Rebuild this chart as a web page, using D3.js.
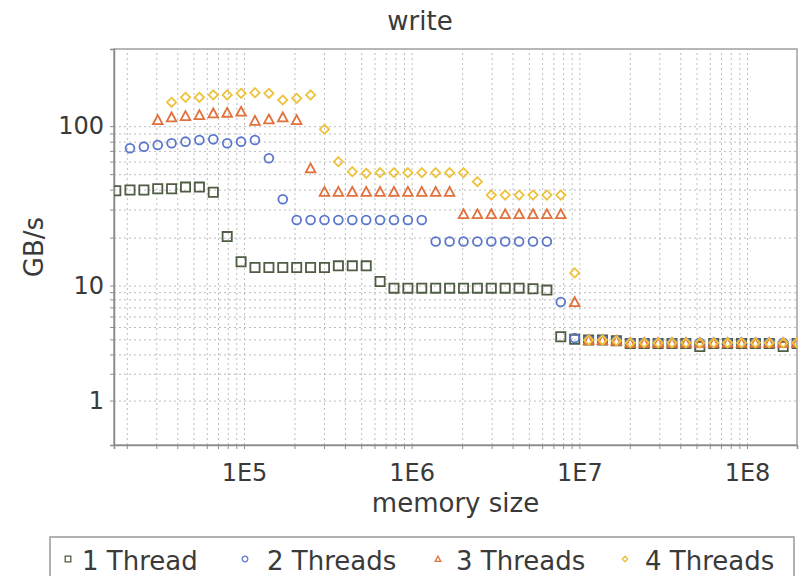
<!DOCTYPE html>
<html>
<head>
<meta charset="utf-8">
<script src="https://cdn.jsdelivr.net/npm/d3@7"></script>
<style>
  body { margin: 0; background: #fff; }
  svg { display: block; }
  text { font-family: "DejaVu Sans", "Noto Sans", sans-serif; fill: #3a3a3a; }
</style>
</head>
<body>
<svg id="chart" width="804" height="576"></svg>
<script>
// Memory sizes (bytes) tested; every series is sampled on this grid.
const memorySizes = [
  17200, 20900, 25300, 30600, 37000, 44800, 54200, 65600, 79400, 96100,
  116300, 140800, 170400, 206200, 249600, 302100, 365600, 442500, 535600, 648200,
  784500, 949500, 1149000, 1391000, 1684000, 2038000, 2466000, 2985000, 3613000, 4372000,
  5292000, 6405000, 7752000, 9382000, 11360000, 13740000, 16630000, 20130000, 24370000, 29490000,
  35690000, 43200000, 52280000, 63280000, 76590000, 92700000, 112200000, 135800000, 164300000, 198900000
];

// Write bandwidth in GB/s per memory size (null = not measured).
const oneThread = [
  39.4, 39.8, 39.8, 40.5, 40.5, 41.5, 41.5, 38.5, 20.3, 14.1,
  13.0, 13.0, 13.0, 13.0, 13.0, 13.0, 13.3, 13.3, 13.3, 10.6,
  9.6, 9.6, 9.6, 9.6, 9.6, 9.6, 9.6, 9.6, 9.6, 9.6,
  9.5, 9.3, 4.2, 4.0, 3.95, 3.95, 3.9, 3.7, 3.7, 3.7,
  3.7, 3.7, 3.5, 3.7, 3.7, 3.7, 3.7, 3.7, 3.5, 3.7
];
const twoThreads = [
  null, 72.7, 74.4, 76.2, 78.1, 80.0, 81.9, 82.7, 78.1, 80.0,
  82.0, 62.9, 34.8, 25.8, 25.8, 25.8, 25.8, 25.8, 25.8, 25.8,
  25.8, 25.8, 25.8, 18.9, 18.9, 18.9, 18.9, 18.9, 18.9, 18.9,
  18.9, 18.9, 7.65, 4.1, 3.95, 3.95, 3.9, 3.75, 3.75, 3.75,
  3.75, 3.75, 3.75, 3.75, 3.75, 3.75, 3.75, 3.75, 3.75, 3.75
];
const threeThreads = [
  null, null, null, 109.4, 113.7, 115.9, 117.6, 120.5, 121.6, 123.4,
  108.2, 110.4, 113.7, 109.4, 54.4, 38.8, 38.8, 38.8, 38.8, 38.8,
  38.8, 38.8, 38.8, 38.8, 38.8, 28.1, 28.1, 28.1, 28.1, 28.1,
  28.1, 28.1, 28.1, 7.65, 3.95, 3.95, 3.9, 3.75, 3.75, 3.75,
  3.75, 3.75, 3.75, 3.75, 3.75, 3.75, 3.75, 3.75, 3.75, 3.75
];
const fourThreads = [
  null, null, null, null, 141.3, 151.8, 151.8, 157.0, 157.0, 160.8,
  162.2, 160.8, 146.0, 149.6, 157.0, 95.6, 59.9, 51.8, 50.6, 51.1,
  51.1, 51.1, 51.1, 51.1, 51.1, 51.1, 44.9, 37.0, 37.0, 37.0,
  37.0, 37.0, 37.0, 12.0, 3.95, 3.95, 3.9, 3.75, 3.75, 3.75,
  3.75, 3.75, 3.75, 3.75, 3.75, 3.75, 3.75, 3.75, 3.75, 3.75
];

const seriesNames = ["1 Thread", "2 Threads", "3 Threads", "4 Threads"];
const seriesColors = ["#4e5d43", "#5b77cc", "#e2703a", "#efc23c"];
const seriesShapes = ["square", "circle", "triangle", "diamond"];

// Grid / tick positions on both axes, labels only at powers of ten.
const xGridValues = [
  2e4, 3e4, 4e4, 5e4, 6e4, 7e4, 8e4, 9e4,
  1e5, 2e5, 3e5, 4e5, 5e5, 6e5, 7e5, 8e5, 9e5,
  1e6, 2e6, 3e6, 4e6, 5e6, 6e6, 7e6, 8e6, 9e6,
  1e7, 2e7, 3e7, 4e7, 5e7, 6e7, 7e7, 8e7, 9e7,
  1e8
];
const xTickLabels = { 1e5: "1E5", 1e6: "1E6", 1e7: "1E7", 1e8: "1E8" };
const yGridValues = [1, 2, 3, 4, 5, 6, 7, 8, 9, 10, 20, 30, 40, 50, 60, 70, 80, 90, 100];
const yTickLabels = { 1: "1", 10: "10", 100: "100" };

const plot = { left: 114, right: 797, top: 49, bottom: 445 };
const W = plot.right - plot.left, H = plot.bottom - plot.top;

const svg = d3.select("#chart");

// x: ordinary log axis
const x = d3.scaleLog().domain([16780, 198700000]).range([plot.left, plot.right]);

// y: log axis that flattens smoothly below 10 (v -> v + (10 - v) / 10), so 0 maps to the bottom
const adjLog = v => Math.log10(v < 10 ? v + (10 - v) / 10 : v);
const yT = d3.scaleLinear().domain([0, adjLog(305)]).range([plot.bottom, plot.top]);
const y = v => yT(adjLog(v));

svg.append("defs").append("clipPath").attr("id", "plotClip")
  .append("rect").attr("x", plot.left).attr("y", plot.top).attr("width", W).attr("height", H);

// plot background
svg.append("rect").attr("x", plot.left).attr("y", plot.top).attr("width", W).attr("height", H)
  .attr("fill", "#fff");

// dashed grid
const gridX = svg.append("g").attr("transform", `translate(0,${plot.bottom})`)
  .call(d3.axisBottom(x).tickValues(xGridValues).tickSize(-H).tickFormat(""));
const gridY = svg.append("g").attr("transform", `translate(${plot.left},0)`)
  .call(d3.axisLeft(yT).tickValues(yGridValues.map(adjLog)).tickSize(-W).tickFormat(""));
[gridX, gridY].forEach(g => {
  g.select(".domain").remove();
  g.selectAll(".tick line").attr("stroke", "#bcbcbc").attr("stroke-width", 1)
    .attr("stroke-dasharray", "2,3");
});

// plot outline
svg.append("rect").attr("x", plot.left).attr("y", plot.top).attr("width", W).attr("height", H)
  .attr("fill", "none").attr("stroke", "#a0a0a0").attr("stroke-width", 1.5);

// axes with tick marks at every grid value
const xAxis = svg.append("g").attr("transform", `translate(0,${plot.bottom})`)
  .call(d3.axisBottom(x).tickValues(xGridValues).tickSize(4).tickPadding(15)
    .tickFormat(v => xTickLabels[v] || ""));
const yAxis = svg.append("g").attr("transform", `translate(${plot.left},0)`)
  .call(d3.axisLeft(yT).tickValues(yGridValues.map(adjLog)).tickSize(4).tickPadding(6)
    .tickFormat((t, i) => yTickLabels[yGridValues[i]] || ""));
[xAxis, yAxis].forEach(g => {
  g.select(".domain").attr("stroke", "#8c8c8c").attr("stroke-width", 1.5);
  g.selectAll(".tick line").attr("stroke", "#8c8c8c");
  g.selectAll(".tick text").attr("font-size", 24).attr("fill", "#3a3a3a")
    .style("font-family", '"DejaVu Sans", sans-serif');
});

// marker shapes
function shapePath(kind, s) {
  const p = d3.path();
  if (kind === "square") { p.rect(-s, -s, 2 * s, 2 * s); }
  else if (kind === "circle") { p.arc(0, 0, s, 0, 2 * Math.PI); p.closePath(); }
  else if (kind === "triangle") { p.moveTo(0, -s); p.lineTo(s, s * 0.85); p.lineTo(-s, s * 0.85); p.closePath(); }
  else { p.moveTo(0, -s); p.lineTo(s, 0); p.lineTo(0, s); p.lineTo(-s, 0); p.closePath(); }
  return p.toString();
}
const markerSize = { square: 4.6, circle: 4.4, triangle: 4.8, diamond: 4.6 };

const allSeries = [oneThread, twoThreads, threeThreads, fourThreads];
const marks = svg.append("g").attr("clip-path", "url(#plotClip)");
allSeries.forEach((vals, si) => {
  const pts = memorySizes.map((m, i) => ({ m, v: vals[i] })).filter(d => d.v != null);
  marks.append("g").selectAll("path").data(pts).join("path")
    .attr("transform", d => `translate(${x(d.m)},${y(d.v)})`)
    .attr("d", shapePath(seriesShapes[si], markerSize[seriesShapes[si]]))
    .attr("fill", "none")
    .attr("stroke", seriesColors[si])
    .attr("stroke-width", 1.8);
});

// titles
svg.append("text").attr("x", 420).attr("y", 30).attr("text-anchor", "middle")
  .attr("font-size", 26).text("write");
svg.append("text").attr("x", (plot.left + plot.right) / 2).attr("y", 512)
  .attr("text-anchor", "middle").attr("font-size", 26).text("memory size");
svg.append("text").attr("transform", `translate(43,${(plot.top + plot.bottom) / 2}) rotate(-90)`)
  .attr("text-anchor", "middle").attr("font-size", 26).text("GB/s");

// legend
const legend = svg.append("g");
legend.append("rect").attr("x", 50).attr("y", 537).attr("width", 744).attr("height", 60)
  .attr("fill", "#fff").attr("stroke", "#999").attr("stroke-width", 1.5);
const legendMarkX = [68, 245, 438, 625];
const legendTextX = [82, 267, 456, 645];
seriesNames.forEach((name, i) => {
  legend.append("path")
    .attr("transform", `translate(${legendMarkX[i]},559)`)
    .attr("d", shapePath(seriesShapes[i], 2.8))
    .attr("fill", "none").attr("stroke", seriesColors[i]).attr("stroke-width", 1.3);
  legend.append("text").attr("x", legendTextX[i]).attr("y", 570)
    .attr("font-size", 26).text(name);
});
</script>
</body>
</html>
